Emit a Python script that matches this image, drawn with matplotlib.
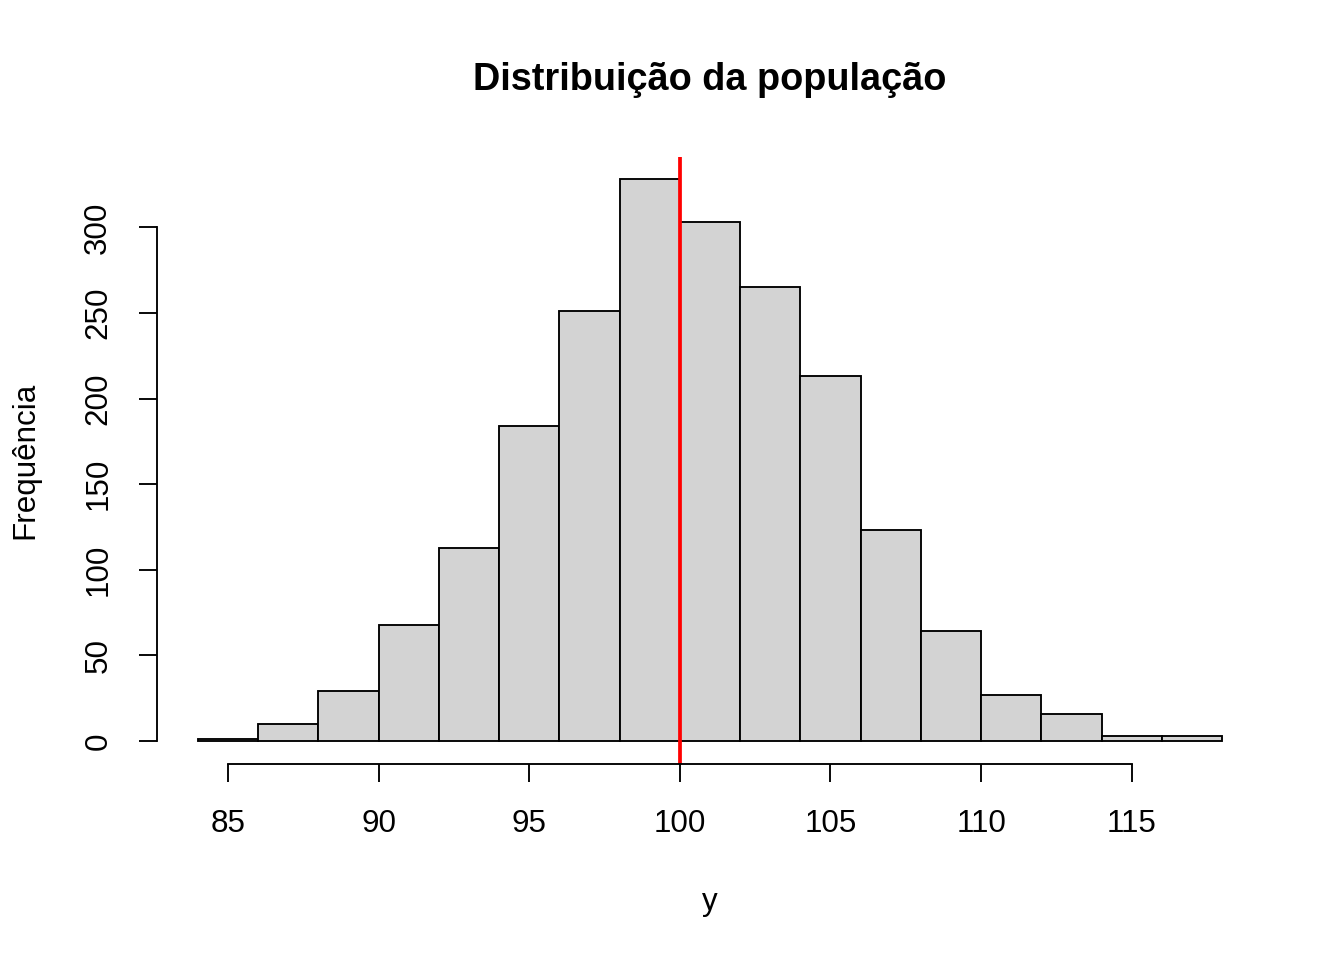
import matplotlib
matplotlib.use("Agg")
import matplotlib.pyplot as plt
import numpy as np

plt.rcParams['font.family'] = ['Liberation Sans', 'DejaVu Sans']

# histogram data (bins of width 2 from 84 to 118)
bin_edges = np.arange(84, 120, 2)
counts = [1, 10, 29, 68, 113, 184, 251, 328, 303, 265, 213, 123, 64, 27, 16, 3, 3]
mean_line = 100
x_ticks = [85, 90, 95, 100, 105, 110, 115]
y_ticks = [0, 50, 100, 150, 200, 250, 300]

W, H = 1344, 960
fig = plt.figure(figsize=(W / 100, H / 100), dpi=100)
# plot region in pixels, like R's default margins
left, right, top, bottom = 157, 1263, 157, 763.5
ax = fig.add_axes([left / W, 1 - bottom / H, (right - left) / W, (bottom - top) / H])

ax.bar(bin_edges[:-1], counts, width=2, align='edge', color='#d3d3d3',
       edgecolor='black', linewidth=1.35)
ax.axvline(mean_line, color='red', linewidth=2.7)

# R style extended ranges (4%)
xr = bin_edges[-1] - bin_edges[0]
ax.set_xlim(bin_edges[0] - 0.04 * xr, bin_edges[-1] + 0.04 * xr)
yr = max(counts)
ax.set_ylim(-0.04 * yr, yr * 1.04)

for s in ['top', 'right']:
    ax.spines[s].set_visible(False)
ax.spines['left'].set_bounds(y_ticks[0], y_ticks[-1])
ax.spines['bottom'].set_bounds(x_ticks[0], x_ticks[-1])
ax.spines['left'].set_linewidth(1.35)
ax.spines['bottom'].set_linewidth(1.35)

ax.set_xticks(x_ticks)
ax.set_yticks(y_ticks)
ax.tick_params(axis='both', length=13, width=1.35, labelsize=22.6)
ax.tick_params(axis='x', pad=19.5)
ax.tick_params(axis='y', pad=18.5)
for lab in ax.get_yticklabels():
    lab.set_rotation(90)
    lab.set_va('center')

fig.text(710 / W, 1 - 80 / H, 'Distribuição da população', ha='center',
         va='center', fontsize=27.3, fontweight='bold')
fig.text(710 / W, 1 - 902 / H, 'y', ha='center', va='center', fontsize=22.6)
fig.text(25 / W, 1 - 460 / H, 'Frequência', ha='center', va='center',
         rotation=90, fontsize=22.6)

fig.savefig('out.png', dpi=100)
